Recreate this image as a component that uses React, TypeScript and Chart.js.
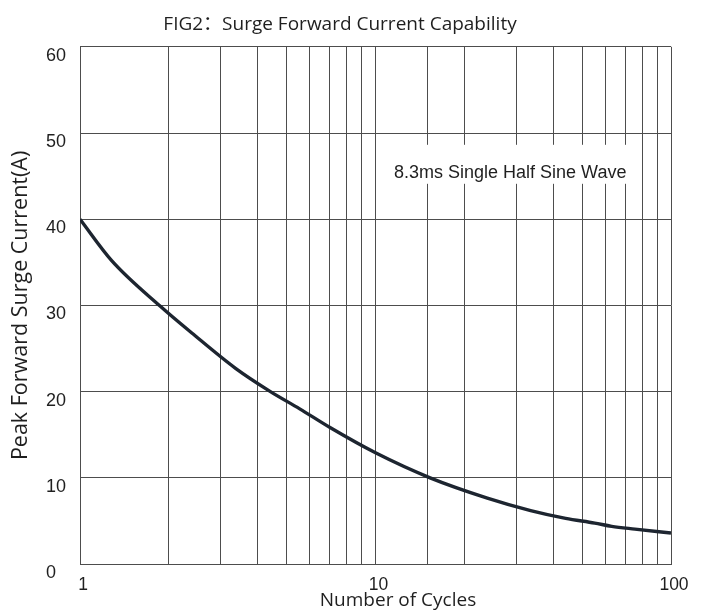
import React, { useEffect, useRef } from 'react';
import { Chart, registerables } from 'chart.js';

Chart.register(...registerables);

// ---- data ----
const cycles = [1, 1.28, 1.87, 2.39, 3.36, 4.41, 5.54, 7.04, 10, 15.3, 23.9, 33.5, 44, 55.2, 63, 75.5, 100];
const surgeCurrent = [40, 35.2, 29.9, 26.8, 22.7, 20, 18.0, 15.8, 12.9, 10.0, 7.65, 6.2, 5.3, 4.75, 4.37, 4.05, 3.6];
const xTickLabels = ['1', '10', '100'];
const yMin = 0;
const yMax = 60;
const yStep = 10;
const xMin = 1;
const xMax = 100;

const titleText = 'FIG2：Surge Forward Current Capability';
const xTitleText = 'Number of Cycles';
const yTitleText = 'Peak Forward Surge Current(A)';
const noteText = '8.3ms Single Half Sine Wave';

const TEXT_COLOR = '#1f1f1f';
const GRID_COLOR = '#4d4d4d';
const LINE_COLOR = '#1d2530';
const SANS = '"Open Sans", "Noto Sans CJK SC", "Noto Sans", sans-serif';
const ARIAL = '"Liberation Sans", Arial, sans-serif';

const extraTextPlugin = {
  id: 'extraText',
  afterDraw(chart: any) {
    const { ctx, chartArea } = chart;
    ctx.save();
    // annotation box with white background (hides grid lines behind it)
    const boxLeft = chartArea.left + 308;
    const boxTop = chartArea.top + 98;
    const boxW = 248;
    const boxH = 39;
    ctx.fillStyle = '#ffffff';
    ctx.fillRect(boxLeft, boxTop, boxW, boxH);
    ctx.fillStyle = TEXT_COLOR;
    ctx.font = `18px ${ARIAL}`;
    ctx.textAlign = 'left';
    ctx.textBaseline = 'middle';
    ctx.fillText(noteText, boxLeft + 6, boxTop + 28);
    // x axis title
    ctx.font = `19px ${SANS}`;
    ctx.textAlign = 'center';
    ctx.textBaseline = 'middle';
    ctx.fillText(xTitleText, chartArea.left + 318, chartArea.bottom + 37);
    ctx.restore();
  },
};

export default function App() {
  const canvasRef = useRef<HTMLCanvasElement | null>(null);

  useEffect(() => {
    document.body.style.margin = '0';
    const canvas = canvasRef.current;
    if (!canvas) return;
    const chart = new Chart(canvas, {
      type: 'line',
      data: {
        datasets: [
          {
            data: cycles.map((c, i) => ({ x: c, y: surgeCurrent[i] })),
            borderColor: LINE_COLOR,
            borderWidth: 3.4,
            pointRadius: 0,
            tension: 0.4,
            cubicInterpolationMode: 'monotone',
            fill: false,
          },
        ],
      },
      options: {
        responsive: false,
        animation: false,
        devicePixelRatio: 1,
        layout: { padding: { left: 9, right: 34, top: 0, bottom: 0 } },
        plugins: {
          legend: { display: false },
          tooltip: { enabled: false },
          title: {
            display: true,
            text: titleText,
            color: TEXT_COLOR,
            font: { family: SANS, size: 19, weight: 'normal', lineHeight: 1.2 },
            padding: { top: 13, bottom: 11 },
          },
        },
        scales: {
          x: {
            type: 'logarithmic',
            min: xMin,
            max: xMax,
            afterFit: (s: any) => {
              s.height = 49;
            },
            grid: { color: GRID_COLOR, lineWidth: 1, drawTicks: false },
            border: { color: GRID_COLOR, width: 1 },
            ticks: {
              autoSkip: false,
              maxRotation: 0,
              minRotation: 0,
              padding: 11,
              labelOffset: 3,
              color: TEXT_COLOR,
              font: { family: ARIAL, size: 17.5 },
              callback: (v: any) => (xTickLabels.includes(String(v)) ? String(v) : ''),
            },
          },
          y: {
            min: yMin,
            max: yMax,
            afterFit: (s: any) => {
              s.width = 71;
            },
            grid: { color: GRID_COLOR, lineWidth: 1, drawTicks: false },
            border: { color: GRID_COLOR, width: 1 },
            ticks: {
              stepSize: yStep,
              padding: 14,
              labelOffset: 9,
              color: TEXT_COLOR,
              font: { family: ARIAL, size: 18 },
              callback: (v: any) => (Number(v) === 0 ? '0\u2007' : String(v)),
            },
            title: {
              display: true,
              text: yTitleText,
              color: TEXT_COLOR,
              font: { family: SANS, size: 21.5, lineHeight: 1.1 },
              padding: 0,
            },
          },
        },
      },
      plugins: [extraTextPlugin],
    } as any);
    return () => chart.destroy();
  }, []);

  return (
    <div style={{ width: 705, height: 613 }}>
      <canvas ref={canvasRef} width={705} height={613} style={{ display: 'block' }} />
    </div>
  );
}
